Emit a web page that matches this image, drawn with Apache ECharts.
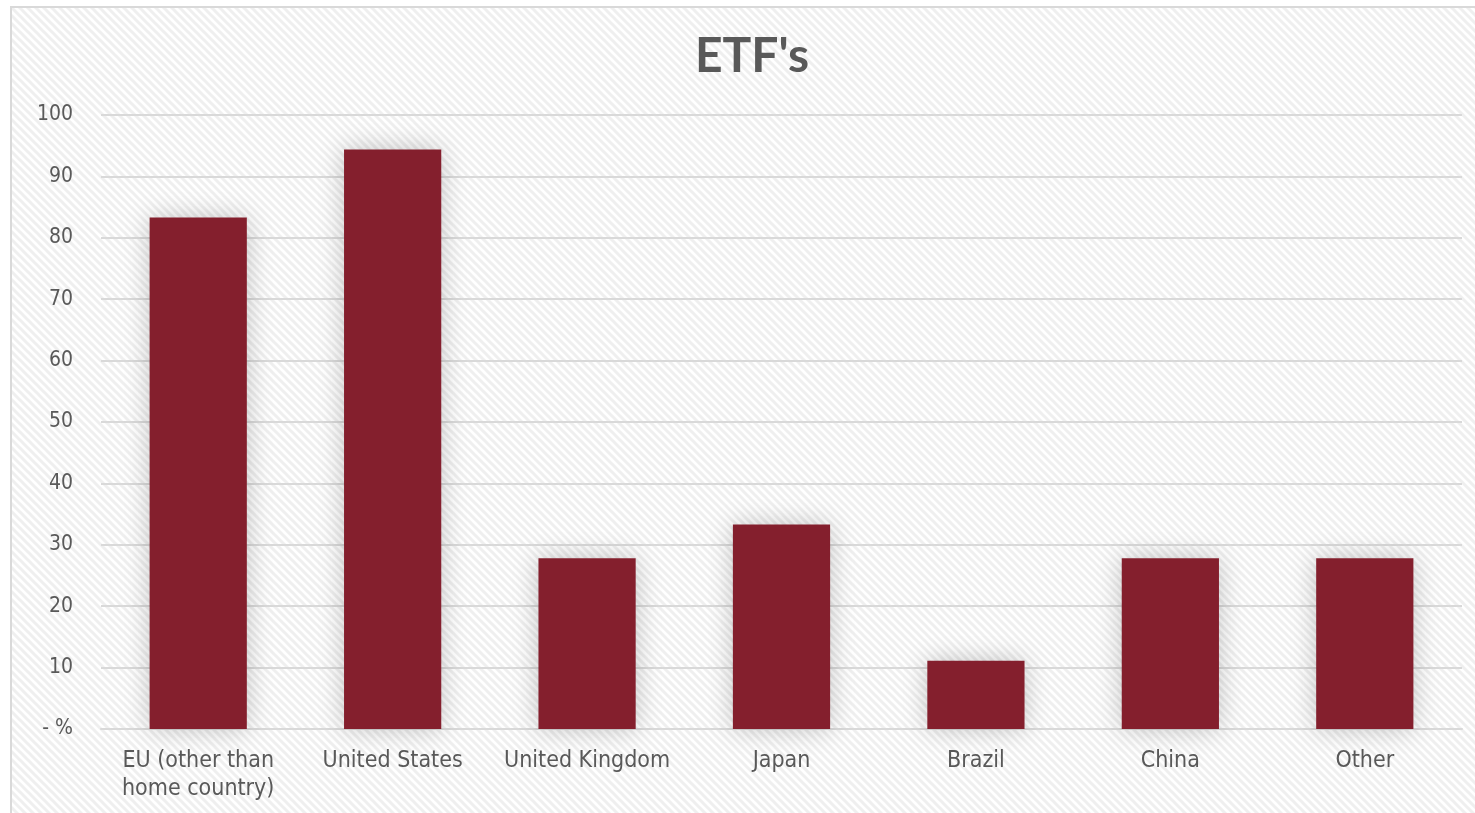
<!DOCTYPE html>
<html lang="en">
<head>
<meta charset="utf-8">
<title>ETF's</title>
<script src="https://cdn.jsdelivr.net/npm/echarts@6/dist/echarts.min.js"></script>
<style type="text/css">
	html, body {
		margin: 0;
		padding: 0;
		background: #ffffff;
		overflow: hidden;
	}
	#frame {
		position: absolute;
		left: 10px;
		top: 6px;
		width: 1480px;
		height: 820px;
		border: 2px solid #d9d9d9;
	}
	#chart {
		width: 1480px;
		height: 820px;
	}
</style>
</head>
<body>
<div id="frame"><div id="chart"></div></div>
<script type="text/javascript">
// categories
var categories = ['EU (other than\nhome country)', 'United States', 'United Kingdom', 'Japan', 'Brazil', 'China', 'Other'];
// percentages
var values = [83.3, 94.4, 27.8, 33.3, 11.1, 27.8, 27.8];
// y tick labels
var yTicks = ['- %', '10', '20', '30', '40', '50', '60', '70', '80', '90', '100'];

var fontFam = '"DejaVu Sans Condensed", "DejaVu Sans", sans-serif';

// striped background
function makeStripes() {
	var c = document.createElement('canvas');
	c.width = 8;
	c.height = 8;
	var ctx = c.getContext('2d');
	ctx.fillStyle = '#ffffff';
	ctx.fillRect(0, 0, 8, 8);
	ctx.strokeStyle = '#efefef';
	ctx.lineWidth = 3;
	ctx.beginPath();
	ctx.moveTo(-4, -4); ctx.lineTo(12, 12);
	ctx.moveTo(-4, 4); ctx.lineTo(4, 12);
	ctx.moveTo(4, -4); ctx.lineTo(12, 4);
	ctx.stroke();
	return c;
}

var myChart = echarts.init(document.getElementById('chart'));
var option = {
	backgroundColor: { image: makeStripes(), repeat: 'repeat' },
	animation: false,
	title: {
		text: "ETF's",
		left: 'center',
		top: 20,
		textStyle: { fontFamily: 'Lato, "DejaVu Sans", sans-serif', fontSize: 48, fontWeight: 'bold', color: '#595959' }
	},
	grid: { left: 89, top: 107, width: 1361, height: 614, containLabel: false },
	xAxis: {
		type: 'category',
		data: categories,
		axisLine: { show: true, lineStyle: { color: '#d9d9d9', width: 2 } },
		axisTick: { show: false },
		axisLabel: {
			fontFamily: fontFam, fontSize: 23, color: '#595959',
			margin: 18, lineHeight: 28, interval: 0
		}
	},
	yAxis: {
		type: 'value',
		min: 0,
		max: 100,
		interval: 10,
		axisLine: { show: false },
		axisTick: { show: false },
		splitLine: { lineStyle: { color: '#d9d9d9', width: 2 } },
		axisLabel: {
			fontFamily: fontFam, fontSize: 21, color: '#595959', margin: 28,
			formatter: function (v) { return yTicks[Math.round(v / 10)]; }
		}
	},
	series: [{
		type: 'bar',
		data: values,
		barWidth: '50%',
		itemStyle: {
			color: '#841f2d',
			shadowBlur: 24,
			shadowColor: 'rgba(0,0,0,0.22)'
		}
	}]
};
myChart.setOption(option);
</script>
</body>
</html>
